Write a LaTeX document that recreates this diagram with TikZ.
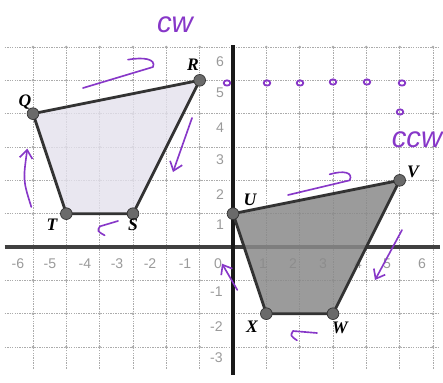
\documentclass[tikz,border=0pt]{standalone}
\usepackage{fontspec}
\setmainfont{Liberation Serif}
\setsansfont{Liberation Sans}
\usetikzlibrary{arrows.meta}
\definecolor{inkpurple}{RGB}{135,55,200}
\definecolor{edgegray}{HTML}{333333}
\definecolor{lightfill}{HTML}{E4E1EC}
\definecolor{darkfill}{HTML}{8A8A8A}
\definecolor{dotfill}{HTML}{6A6A6A}
\definecolor{gridc}{HTML}{ABABAB}
\definecolor{numc}{HTML}{9A9A9A}
\begin{document}
\begin{tikzpicture}[x=1cm,y=1cm,
  gridline/.style={gridc, line width=0.5pt, dash pattern=on 1.2pt off 0.9pt},
  axisline/.style={line width=3pt},
  polyedge/.style={draw=edgegray, line width=2.4pt, line join=round},
  vdot/.style={circle, fill=dotfill, draw=edgegray, line width=0.6pt, inner sep=0pt, minimum size=10pt},
  vlabel/.style={font=\fontsize{15}{15}\selectfont\bfseries\itshape, inner sep=0pt},
  num/.style={font=\sffamily\fontsize{12}{12}\selectfont, text=numc, inner sep=0pt},
  ink/.style={draw=inkpurple, line width=1.4pt, line cap=round, line join=round},
  inkarrow/.style={ink, -{Straight Barb[length=7pt,width=11pt]}},
  hand/.style={text=inkpurple, font=\sffamily\itshape\fontsize{25}{25}\selectfont, inner sep=0pt},
]
\useasboundingbox (-6.99,-4.05) rectangle (6.30,7.41);

% grid
\foreach \x in {-6,...,6} \draw[gridline] (\x,-3.65) -- (\x,6);
\foreach \y in {-3,...,6} \draw[gridline] (-6.85,\y) -- (6.2,\y);
\foreach \x in {-6,...,6} \foreach \y in {-3,...,6} \fill[gridc] (\x,\y) circle (1.2pt);

% axes
\coordinate (xl) at (-6.85,0);
\coordinate (xr) at (6.2,0);
\coordinate (yt) at (0,6.05);
\coordinate (yb) at (0,-3.85);
\draw[axisline, black!75] (xl) -- (xr);
\draw[axisline, black!90] (yt) -- (yb);

% axis numbers
\foreach \n/\p in {6/-6.45,5/-5.49,4/-4.44,3/-3.48,2/-2.49,1/-1.44}
  \node[num] (xn\n) at (\p,-0.51) {-\n};
\node[num] (xn0) at (-0.45,-0.51) {0};
\foreach \n/\p in {1/0.9,2/1.8,3/2.7,4/3.75,5/4.62,6/5.67}
  \node[num] (xp\n) at (\p,-0.51) {\n};
\foreach \n/\p in {6/5.55,5/4.62,4/3.57,3/2.61,2/1.56,1/0.66}
  \node[num] (yp\n) at (-0.39,\p) {\n};
\foreach \n/\p in {1/-1.35,2/-2.4,3/-3.33}
  \node[num] (yn\n) at (-0.5,\p) {-\n};

% vertices
\coordinate (Q) at (-6,4);
\coordinate (R) at (-1,5);
\coordinate (S) at (-3,1);
\coordinate (T) at (-5,1);
\coordinate (U) at (0,1);
\coordinate (V) at (5,2);
\coordinate (W) at (3,-2);
\coordinate (X) at (1,-2);

\fill[lightfill, opacity=0.8] (Q) -- (R) -- (S) -- (T) -- cycle;
\fill[darkfill, opacity=0.85] (U) -- (V) -- (W) -- (X) -- cycle;
\draw[polyedge] (Q) -- (R) -- (S) -- (T) -- cycle;
\draw[polyedge] (U) -- (V) -- (W) -- (X) -- cycle;

\foreach \v in {Q,R,S,T,U,V,W,X} \node[vdot] (d\v) at (\v) {};

\node[vlabel] (lQ) at (-6.24,4.35) {Q};
\node[vlabel] (lR) at (-1.2,5.46) {R};
\node[vlabel] (lS) at (-3.0,0.66) {S};
\node[vlabel] (lT) at (-5.43,0.66) {T};
\node[vlabel] (lU) at (0.51,1.41) {U};
\node[vlabel] (lV) at (5.4,2.25) {V};
\node[vlabel] (lW) at (3.21,-2.43) {W};
\node[vlabel] (lX) at (0.57,-2.4) {X};

% handwritten notes
\node[hand] (cw) at (-1.74,6.66) {cw};
\node[hand] (ccw) at (5.52,3.21) {ccw};

% handwritten arrows
\coordinate (a1s) at (-4.5,4.77);
\coordinate (a1t) at (-2.4,5.4);
\coordinate (a1h) at (-3.15,5.62);
\draw[ink] (a1s) -- (a1t) .. controls (-2.3,5.65) and (-2.7,5.7) .. (a1h);

\coordinate (a2s) at (-1.23,3.87);
\coordinate (a2t) at (-1.8,2.25);
\draw[inkarrow] (a2s) -- (a2t);

\coordinate (a3s) at (-3.45,0.78);
\coordinate (a3t) at (-3.99,0.62);
\coordinate (a3h) at (-3.85,0.35);
\draw[ink] (a3s) -- (a3t) .. controls (-4.08,0.48) .. (a3h);

\coordinate (a4s) at (-6.05,1.2);
\coordinate (a4t) at (-6.17,2.95);
\draw[inkarrow] (a4s) .. controls (-6.3,2.0) .. (a4t);

\coordinate (a5s) at (1.65,1.56);
\coordinate (a5t) at (3.5,2.0);
\coordinate (a5h) at (2.9,2.18);
\draw[ink] (a5s) -- (a5t) .. controls (3.62,2.25) and (3.3,2.3) .. (a5h);

\coordinate (a6s) at (5.07,0.51);
\coordinate (a6t) at (4.26,-0.99);
\draw[inkarrow] (a6s) -- (a6t);

\coordinate (a7s) at (2.52,-2.58);
\coordinate (a7t) at (1.8,-2.52);
\coordinate (a7h) at (1.92,-2.8);
\draw[ink] (a7s) -- (a7t) .. controls (1.72,-2.66) .. (a7h);

\coordinate (a8s) at (0.13,-1.29);
\coordinate (a8t) at (-0.33,-0.5);
\draw[inkarrow] (a8s) -- (a8t);

% small marks on the grid
\foreach \mx/\my in {-0.18/4.92,1.02/4.92,2.01/4.92,3.0/4.95,4.02/4.95,5.07/4.92,5.01/4.05}
  \draw[ink, line width=1.5pt] (\mx,\my) ellipse (0.1 and 0.08);
\end{tikzpicture}
\end{document}
